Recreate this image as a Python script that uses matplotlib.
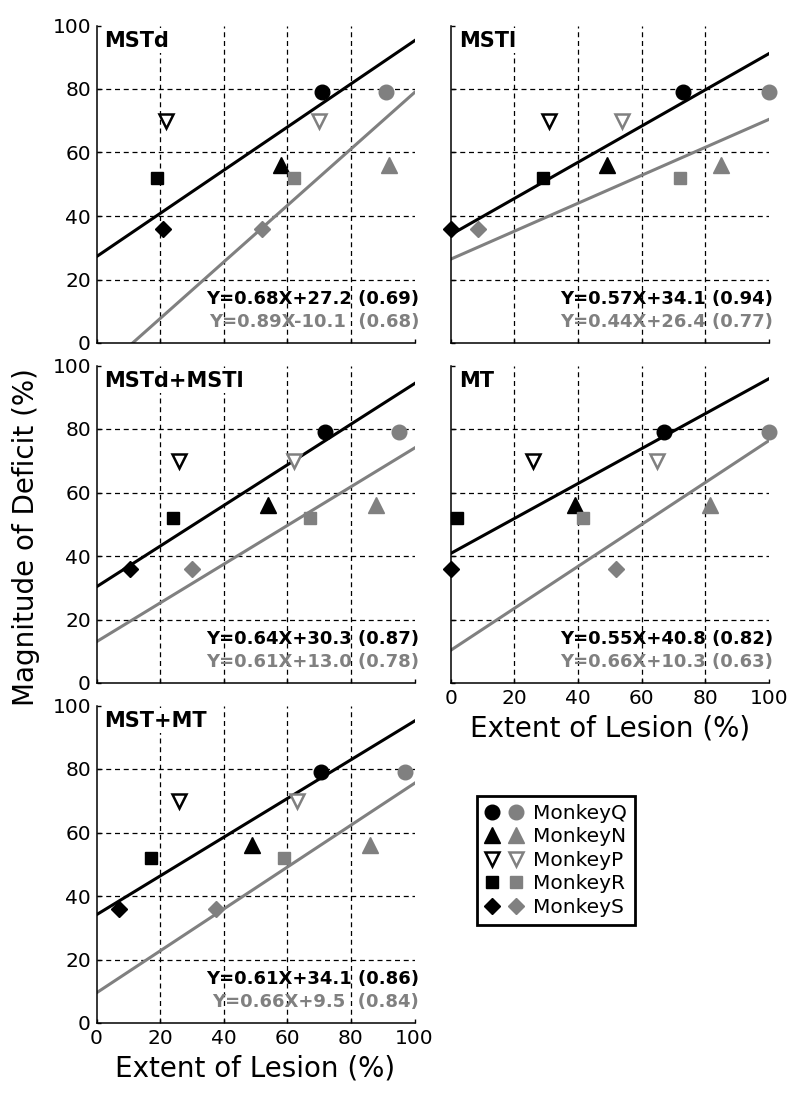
import numpy as np
import matplotlib
matplotlib.use('Agg')
import matplotlib.pyplot as plt
from matplotlib.lines import Line2D
from matplotlib.legend_handler import HandlerTuple

plt.rcParams['font.family'] = ['DejaVu Sans']

# Data
panels = ['MSTd', 'MSTl', 'MSTd+MSTl', 'MT', 'MST+MT']
monkeys = ['MonkeyQ', 'MonkeyN', 'MonkeyP', 'MonkeyR', 'MonkeyS']
deficit = [79, 56, 70, 52, 36]

# extent of lesion per monkey (Q, N, P, R, S), black and gray sets
mstd_black = [71, 58, 22, 19, 21]
mstd_gray = [91, 92, 70, 62, 52]
mstl_black = [73, 49, 31, 29, 0]
mstl_gray = [100, 85, 54, 72, 8.5]
mstdl_black = [72, 54, 26, 24, 10.5]
mstdl_gray = [95, 88, 62, 67, 30]
mt_black = [67, 39, 26, 2, 0]
mt_gray = [100, 81.5, 65, 41.5, 52]
mstmt_black = [70.5, 49, 26, 17, 7]
mstmt_gray = [97, 86, 63, 59, 37.5]

extent_black = [mstd_black, mstl_black, mstdl_black, mt_black, mstmt_black]
extent_gray = [mstd_gray, mstl_gray, mstdl_gray, mt_gray, mstmt_gray]

slopes_black = [0.68, 0.57, 0.64, 0.55, 0.61]
intercepts_black = [27.2, 34.1, 30.3, 40.8, 34.1]
slopes_gray = [0.89, 0.44, 0.61, 0.66, 0.66]
intercepts_gray = [-10.1, 26.4, 13.0, 10.3, 9.5]

eq_black = ['Y=0.68X+27.2 (0.69)', 'Y=0.57X+34.1 (0.94)', 'Y=0.64X+30.3 (0.87)',
            'Y=0.55X+40.8 (0.82)', 'Y=0.61X+34.1 (0.86)']
eq_gray = ['Y=0.89X-10.1  (0.68)', 'Y=0.44X+26.4 (0.77)', 'Y=0.61X+13.0 (0.78)',
           'Y=0.66X+10.3 (0.63)', 'Y=0.66X+9.5  (0.84)']

ticks = [0, 20, 40, 60, 80, 100]

# Styles
black = 'black'
gray = '#808080'
markers = ['o', '^', 'v', 's', 'D']
msizes = [10.5, 11, 10.5, 8.5, 8.3]

fig = plt.figure(figsize=(8, 11), dpi=100)

W, H = 800, 1100
ax_w, ax_h = 318 / W, 317.5 / H
lefts = [96.5 / W, 450.7 / W]
bottoms = [1 - 343 / H, 1 - 683 / H, 1 - 1023 / H]
positions = [(0, 0), (1, 0), (0, 1), (1, 1), (0, 2)]


def draw_points(ax, xs, color):
    for x, y, m, s in zip(xs, deficit, markers, msizes):
        if m == 'v':
            ax.plot(x, y, marker=m, markersize=s, markerfacecolor='white',
                    markeredgecolor=color, markeredgewidth=1.8, linestyle='none',
                    clip_on=False, zorder=5)
        else:
            ax.plot(x, y, marker=m, markersize=s, color=color, linestyle='none',
                    clip_on=False, zorder=5)


for i, name in enumerate(panels):
    col, row = positions[i]
    ax = fig.add_axes([lefts[col], bottoms[row], ax_w, ax_h])
    ax.set_xlim(0, 100)
    ax.set_ylim(0, 100)

    # dashed grid at inner ticks
    for g in ticks[1:-1]:
        ax.axvline(g, color='black', lw=0.9, ls=(0, (4, 3)), zorder=0.5)
        ax.axhline(g, color='black', lw=0.9, ls=(0, (4, 3)), zorder=0.5)

    # regression lines
    xl = np.array([0, 100])
    ax.plot(xl, slopes_black[i] * xl + intercepts_black[i], color=black, lw=2.2, zorder=2)
    ax.plot(xl, slopes_gray[i] * xl + intercepts_gray[i], color=gray, lw=2.2, zorder=2)

    draw_points(ax, extent_black[i], black)
    draw_points(ax, extent_gray[i], gray)

    ax.text(2.5, 93.3, name, fontsize=15, fontweight='bold', va='baseline', ha='left',
            bbox=dict(facecolor='white', edgecolor='none', pad=2), zorder=4)
    ax.text(101.5, 14, eq_black[i], fontsize=13, fontweight='bold', color=black,
            ha='right', va='center', zorder=4)
    ax.text(101.5, 6.5, eq_gray[i], fontsize=13, fontweight='bold', color=gray,
            ha='right', va='center', zorder=4)

    ax.spines['top'].set_visible(False)
    ax.spines['right'].set_visible(False)
    ax.spines['left'].set_linewidth(1.1)
    ax.spines['bottom'].set_linewidth(1.1)
    ax.set_xticks(ticks)
    ax.set_yticks(ticks)
    ax.tick_params(direction='in', length=3, width=1, labelsize=14.5, pad=4)

    if col == 0:
        ax.set_yticklabels([str(t) for t in ticks])
    else:
        ax.set_yticklabels([])
    if name in ('MT', 'MST+MT'):
        ax.set_xticklabels([str(t) for t in ticks])
        ax.set_xlabel('Extent of Lesion (%)', fontsize=20, labelpad=5)
    else:
        ax.set_xticklabels([])

fig.text(26 / W, 1 - 537 / H, 'Magnitude of Deficit (%)', rotation=90,
         fontsize=20, ha='center', va='center')

# Legend with black and gray marker per monkey
handles = []
for m, s in zip(markers, msizes):
    if m == 'v':
        hb = Line2D([], [], marker=m, markersize=s, markerfacecolor='white',
                    markeredgecolor=black, markeredgewidth=1.8, linestyle='none')
        hg = Line2D([], [], marker=m, markersize=s, markerfacecolor='white',
                    markeredgecolor=gray, markeredgewidth=1.8, linestyle='none')
    else:
        hb = Line2D([], [], marker=m, markersize=s, color=black, linestyle='none')
        hg = Line2D([], [], marker=m, markersize=s, color=gray, linestyle='none')
    handles.append((hb, hg))

leg = fig.legend(handles, monkeys, handler_map={tuple: HandlerTuple(ndivide=None, pad=0.5)},
                 loc='upper left', bbox_to_anchor=(477 / W, 1 - 796 / H),
                 fontsize=14.5, frameon=True, fancybox=False, framealpha=1,
                 edgecolor='black', borderpad=0.4, labelspacing=0.22,
                 handlelength=1.9, handletextpad=0.5, borderaxespad=0)
leg.get_frame().set_linewidth(2)

plt.savefig('out.png', dpi=100)
